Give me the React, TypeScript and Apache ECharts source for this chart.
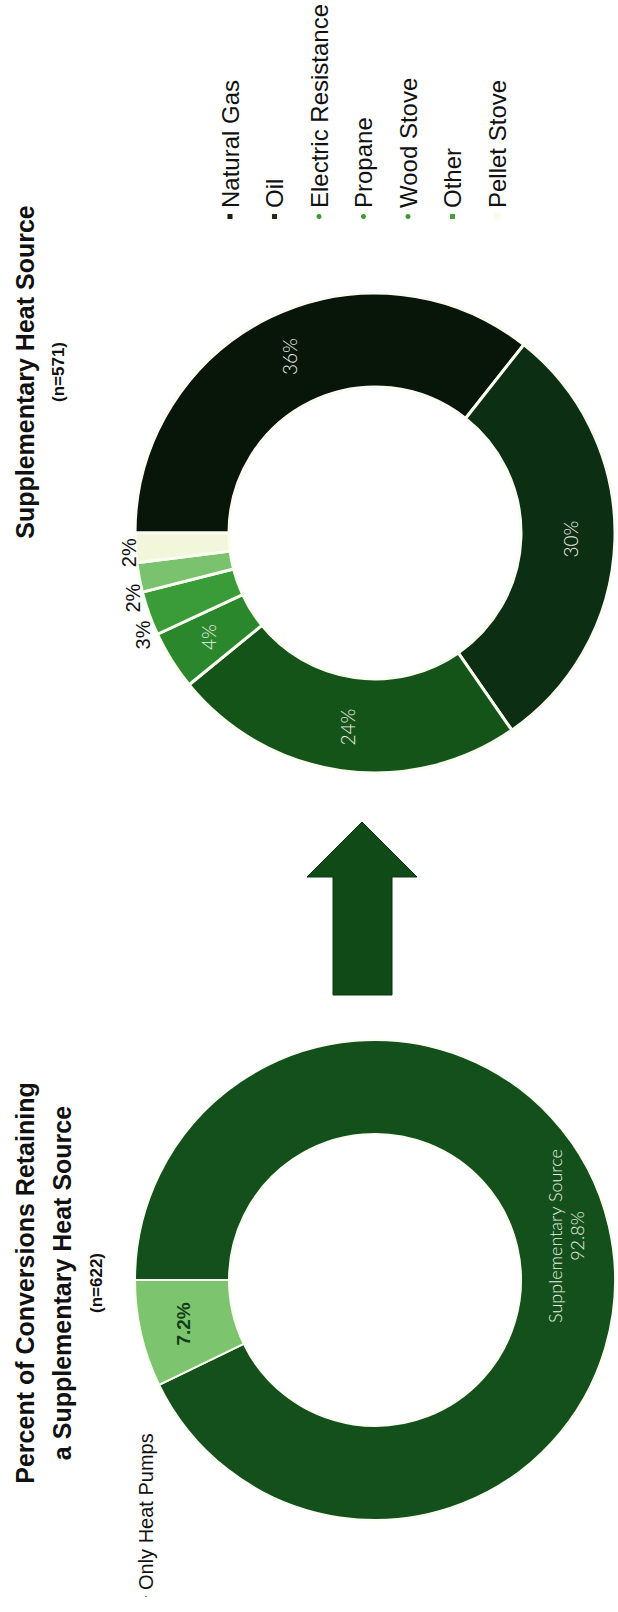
import React, { useEffect, useRef } from 'react';
import * as echarts from 'echarts';

// ---- data ----
const leftNames = ['Supplementary Source', 'Only Heat Pumps'];
const leftValues = [92.8, 7.2];
const leftColors = ['#13501b', '#7cc46e'];

const rightNames = ['Natural Gas', 'Oil', 'Electric Resistance', 'Propane', 'Wood Stove', 'Other', 'Pellet Stove'];
const rightValues = [36, 30, 24, 4, 3, 2, 2];
const rightColors = ['#081509', '#0c2e12', '#155419', '#2b872c', '#3a9c38', '#7bc26f', '#f2f7dc'];
const legendMarkerColors = ['#1a1a1a', '#262626', '#3a9a3a', '#3a9a3a', '#3a9a3a', '#4a9a4a', '#f8faf0'];
const legendIcons = ['rect', 'rect', 'circle', 'circle', 'circle', 'rect', 'rect'];
const insideLabelCount = 4;

const leftTitle = ['Percent of Conversions Retaining', 'a Supplementary Heat Source', '(n=622)'];
const rightTitle = ['Supplementary Heat Source', '(n=571)'];

// landscape canvas, rotated -90deg onto the portrait page
const W = 1612;
const H = 618;
const FONT = '"Liberation Sans", Arial, Helvetica, sans-serif';
const THIN = 'Lato, "Liberation Sans", Arial, sans-serif';

function titleText(text: string, x: number, y: number, size: number) {
  return {
    type: 'text',
    x,
    y,
    silent: true,
    style: {
      text,
      fill: '#111',
      font: `bold ${size}px ${FONT}`,
      textAlign: 'center',
      textVerticalAlign: 'middle',
      align: 'center',
      verticalAlign: 'middle',
    },
  };
}

export default function App() {
  const ref = useRef<HTMLDivElement>(null);

  useEffect(() => {
    document.body.style.margin = '0';
    const chart = echarts.init(ref.current as HTMLDivElement, null, { renderer: 'svg', width: W, height: H });

    const leftData = leftNames.map((name, i) => ({
      name,
      value: leftValues[i],
      itemStyle: { color: leftColors[i] },
      label:
        i === 0
          ? { show: true, position: 'inside', formatter: '{b}\n{c}%', color: '#e9f1e2', fontSize: 18, fontFamily: THIN, fontWeight: 300, lineHeight: 22 }
          : { show: true, position: 'inside', formatter: '{c}%', color: '#123d16', fontSize: 19, fontFamily: FONT, fontWeight: 'bold' },
    }));

    const rightData = rightNames.map((name, i) => ({
      name,
      value: rightValues[i],
      itemStyle: { color: rightColors[i] },
      label:
        i < insideLabelCount
          ? { show: true, position: 'inside', formatter: '{c}%', color: '#f2f2ea', fontSize: 19, fontFamily: THIN, fontWeight: 300 }
          : { show: true, position: 'outside', formatter: '{c}%', color: '#111', fontSize: 20, fontFamily: FONT },
    }));

    const arrow = {
      type: 'polygon',
      silent: true,
      shape: {
        points: [
          [617, 333], [735, 333], [735, 307], [790, 362], [735, 417], [735, 392], [617, 392],
        ],
      },
      style: { fill: '#104b17', stroke: '#0b3510', lineWidth: 1 },
    };

    chart.setOption({
      animation: false,
      backgroundColor: '#ffffff',
      legend: [
        {
          orient: 'vertical',
          left: 1386,
          top: 213,
          itemWidth: 7,
          itemHeight: 7,
          itemGap: 20.5,
          selectedMode: false,
          textStyle: { fontSize: 24, fontFamily: FONT, color: '#111', lineHeight: 24 },
          data: rightNames.map((name, i) => ({
            name,
            icon: legendIcons[i],
            itemStyle: { color: legendMarkerColors[i] },
          })),
        },
        {
          orient: 'horizontal',
          left: 8,
          top: 131,
          itemWidth: 3,
          itemHeight: 4,
          selectedMode: false,
          textStyle: { fontSize: 20, fontFamily: FONT, color: '#111' },
          data: [{ name: leftNames[1], icon: 'rect', itemStyle: { color: '#777' } }],
        },
      ],
      graphic: [
        titleText(leftTitle[0], 329, 25, 25),
        titleText(leftTitle[1], 329, 62, 25),
        titleText(leftTitle[2], 329, 96, 17),
        titleText(rightTitle[0], 1240, 25, 25),
        titleText(rightTitle[1], 1240, 58, 17),
        arrow,
      ],
      series: [
        {
          type: 'pie',
          silent: true,
          center: [332, 375],
          radius: [146, 240],
          startAngle: 90,
          clockwise: true,
          avoidLabelOverlap: false,
          itemStyle: { borderColor: '#fbfdf2', borderWidth: 2 },
          labelLine: { show: false },
          data: leftData,
        },
        {
          type: 'pie',
          silent: true,
          center: [1079, 375],
          radius: [146, 240],
          startAngle: 90,
          clockwise: true,
          avoidLabelOverlap: false,
          itemStyle: { borderColor: '#fbfdf2', borderWidth: 3 },
          labelLine: { show: false, length: 6, length2: 0 },
          labelLayout: (p: any) => (p.dataIndex === rightNames.length - 1 ? { dx: 15 } : {}),
          data: rightData,
        },
      ],
    });

    return () => chart.dispose();
  }, []);

  return (
    <div style={{ position: 'absolute', left: 0, top: 0, width: H, height: W, overflow: 'hidden', background: '#fff' }}>
      <div
        ref={ref}
        style={{
          position: 'absolute',
          left: 0,
          top: 0,
          width: W,
          height: H,
          transformOrigin: '0 0',
          transform: `translate(0px, ${W}px) rotate(-90deg)`,
        }}
      />
    </div>
  );
}
